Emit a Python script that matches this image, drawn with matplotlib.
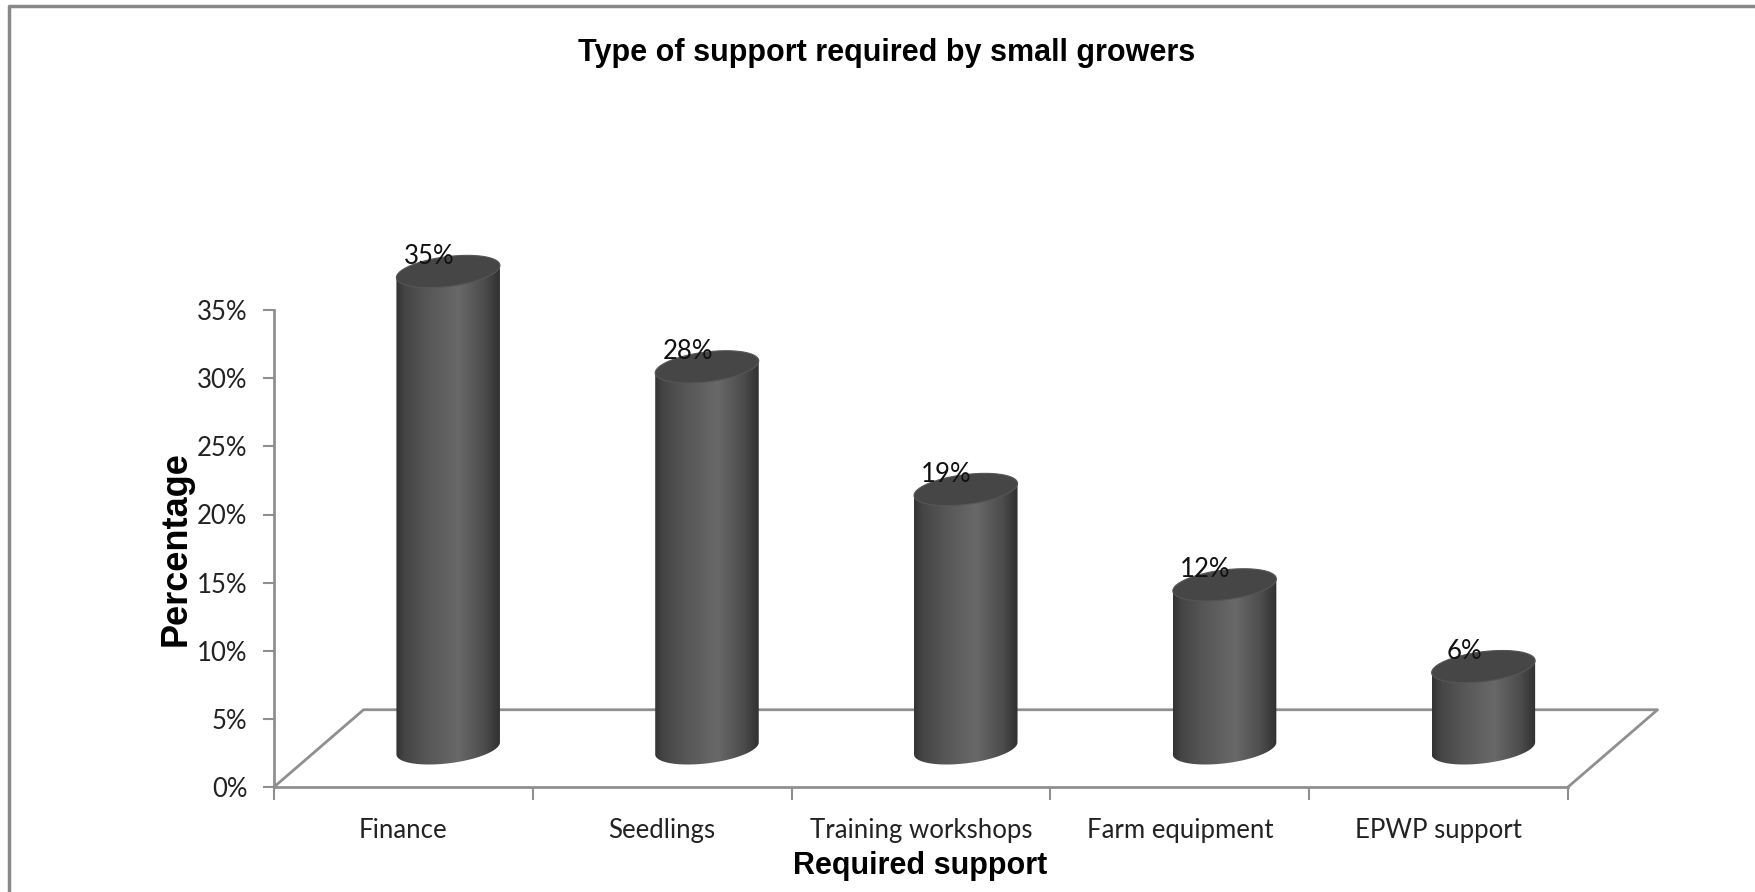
import numpy as np
import matplotlib.pyplot as plt
from matplotlib.path import Path
from matplotlib.patches import PathPatch, Polygon
from matplotlib.lines import Line2D

# support types and share of growers asking for each
categories = ["Finance", "Seedlings", "Training workshops", "Farm equipment", "EPWP support"]
values = [35, 28, 19, 12, 6]
value_labels = ["35%", "28%", "19%", "12%", "6%"]
yticks = [0, 5, 10, 15, 20, 25, 30, 35]
ytick_labels = ["0%", "5%", "10%", "15%", "20%", "25%", "30%", "35%"]

W, H = 1756, 892
fig = plt.figure(figsize=(W / 100, H / 100), dpi=100)
ax = fig.add_axes([274 / W, 105 / H, 1294 / W, 545 / H])

body_font = "Lato"
bold_font = ["Liberation Sans", "DejaVu Sans"]
grid_col = "#8f8f8f"

# floor depth (pseudo 3d)
DX, DY = 0.346, 5.67
half_w, rim = 0.2, 1.1
tilt = 2.2

# body shading, dark edges and lighter band right of centre
stops = [0.0, 0.08, 0.3, 0.6, 0.85, 1.0]
greys = [0.20, 0.27, 0.34, 0.41, 0.30, 0.19]
u = np.linspace(0, 1, 200)
g = np.interp(u, stops, greys)
shade = np.dstack([g, g, g])


def ellipse_pts(cx, cy, t):
    x = cx + half_w * np.cos(t)
    y = cy + rim * np.sin(t) + tilt * (x - cx)
    return x, y


for i, v in enumerate(values):
    cx = i + 0.5 + DX / 2
    base = DY / 2
    top = base + v

    # body outline: straight sides, rounded bottom
    tb = np.linspace(np.pi, 2 * np.pi, 60)
    bx, by = ellipse_pts(cx, base, tb)
    verts = [(cx - half_w, top - tilt * half_w)]
    verts += list(zip(bx, by))
    verts += [(cx + half_w, top + tilt * half_w), (cx - half_w, top - tilt * half_w)]
    body = PathPatch(Path(verts), facecolor="none", edgecolor="none")
    ax.add_patch(body)
    im = ax.imshow(shade, extent=[cx - half_w, cx + half_w, base - rim - 1, top + rim + 1],
                   aspect="auto", interpolation="bilinear", zorder=3)
    im.set_clip_path(body)

    tt = np.linspace(0, 2 * np.pi, 100)
    tx, ty = ellipse_pts(cx, top, tt)
    ax.add_patch(Polygon(np.column_stack([tx, ty]), closed=True, facecolor="#464646",
                         edgecolor="#565656", lw=0.8, zorder=4))

    ax.text(cx - 0.075, top + 1.1, value_labels[i], ha="center", va="center",
            fontsize=18.5, family=body_font, color="#111111", zorder=5)

# floor outline
ax.add_line(Line2D([0, DX, 5 + DX, 5], [0, DY, DY, 0], color=grid_col, lw=2,
                   zorder=1, clip_on=False))

ax.set_xlim(0, 5)
ax.set_ylim(0, 40)

for side in ["top", "right"]:
    ax.spines[side].set_visible(False)
ax.spines["left"].set_bounds(0, 35)
ax.spines["bottom"].set_bounds(0, 5)
for side in ["left", "bottom"]:
    ax.spines[side].set_color(grid_col)
    ax.spines[side].set_linewidth(2)

ax.set_yticks(yticks)
ax.set_yticklabels(ytick_labels, fontsize=18.5, family=body_font, color="#222222")
ax.tick_params(axis="y", length=8, width=1.5, color=grid_col, pad=11)

ax.set_xticks(range(6))
ax.set_xticklabels([""] * 6)
ax.set_xticks(np.arange(5) + 0.5, minor=True)
ax.set_xticklabels(categories, minor=True, fontsize=18.5, family=body_font, color="#222222")
ax.tick_params(axis="x", which="major", length=9, width=1.5, color=grid_col)
ax.tick_params(axis="x", which="minor", length=0, pad=22)

fig.text(887 / W, 1 - 53 / H, "Type of support required by small growers", ha="center",
         va="center", fontsize=22, fontweight="bold", family=bold_font)
fig.text(176 / W, 1 - 549 / H, "Percentage", ha="center", va="center", rotation=90,
         fontsize=26, fontweight="bold", family=bold_font)
fig.text(920 / W, 1 - 866 / H, "Required support", ha="center", va="center",
         fontsize=22, fontweight="bold", family=bold_font)

# chart frame, only top and left edges fall inside the image
fig.add_artist(Line2D([9 / W, 9 / W, 1], [0, 1 - 6 / H, 1 - 6 / H], color="#888888", lw=2.5))

fig.savefig("out.png", dpi=100)
